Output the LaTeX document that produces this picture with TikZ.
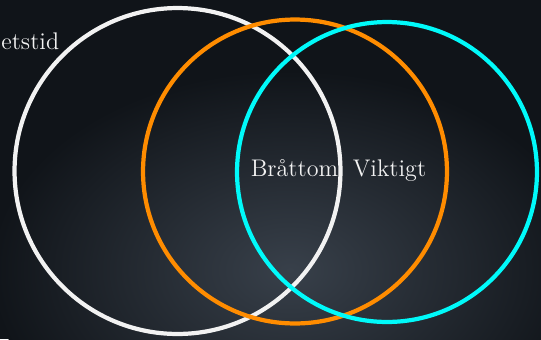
\documentclass[tikz,border=0pt]{standalone}
\usepackage{xcolor}
\usepackage{tikz}
\definecolor{board}{RGB}{16,20,25}
\definecolor{boardlight}{RGB}{56,64,74}
\definecolor{ringorange}{RGB}{255,140,0}
\definecolor{ringcyan}{RGB}{0,250,250}
\definecolor{chalk}{RGB}{242,242,242}

\begin{document}
\begin{tikzpicture}[x=0.02cm,y=-0.02cm,
  ring/.style={circle,draw=#1,line width=2.4pt,inner sep=0pt},
  word/.style={text=chalk,font=\fontsize{13.7}{16}\selectfont,inner sep=0pt}]
  \useasboundingbox (0,0) rectangle (541,339);
  \clip (0,0) rectangle (541,339);
  \fill[board] (0,0) rectangle (541,339);
  \shade[inner color=boardlight,outer color=board] (290,270) ellipse (300 and 200);
  \node[word,anchor=base west] (tid) at (1,49) {etstid};
  \node[word,anchor=base] (bratt) at (294.5,176) {Br\aa ttom};
  \node[word,anchor=base] (vikt) at (389.5,176) {Viktigt};
  \node[ring=chalk,minimum size=6.52cm] (vit) at (177.5,171) {};
  \node[ring=ringorange,minimum size=6.08cm] (orange) at (295,171.5) {};
  \node[ring=ringcyan,minimum size=6.0cm] (cyan) at (387,172) {};
\end{tikzpicture}
\end{document}
